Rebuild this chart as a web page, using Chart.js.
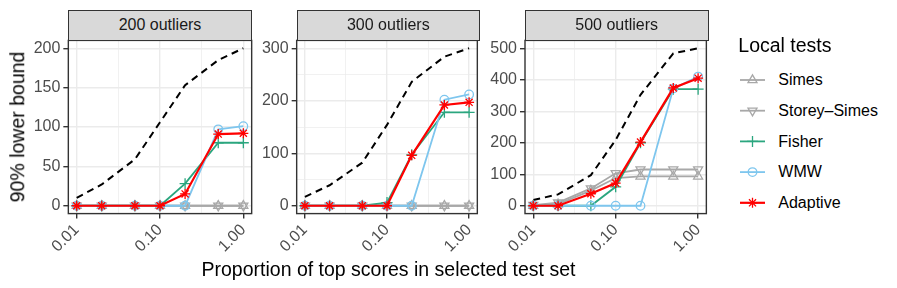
<!DOCTYPE html>
<html>
<head>
<meta charset="utf-8">
<script src="https://cdn.jsdelivr.net/npm/chart.js@4.4.1/dist/chart.umd.min.js"></script>
<style>
  body { margin: 0; background: #fff; font-family: 'Liberation Sans', Arial, sans-serif; }
  #wrap { position: relative; width: 897px; height: 288px; overflow: hidden; }
  #wrap canvas { position: absolute; top: 0; }
  .strip { position: absolute; top: 10px; height: 31px; background: #d9d9d9; border: 1.3px solid #333; box-sizing: border-box; }
  .txt { position: absolute; white-space: nowrap; line-height: 1; }
</style>
</head>
<body>
<div id="wrap">
  <canvas id="c200" width="260" height="288" style="left:0px"></canvas>
  <canvas id="c300" width="230" height="288" style="left:255px"></canvas>
  <canvas id="c500" width="230" height="288" style="left:484px"></canvas>
  <canvas id="keys" width="40" height="160" style="left:733px;top:60px"></canvas>
</div>
<script>
// data
var props = [0.01, 0.02, 0.05, 0.1, 0.2, 0.5, 1];
var xTicks = [0.01, 0.1, 1];
var xTickLabels = ['0.01', '0.10', '1.00'];
var xMinor = [0.0316, 0.316];

var panelNames = ['200 outliers', '300 outliers', '500 outliers'];
var seriesNames = ['Simes', 'Storey\u2013Simes', 'Fisher', 'WMW', 'Adaptive'];

// 200 outliers
var oracle200 = [10, 27, 59, 106, 153, 185, 200];
var simes200 = [0, 0, 0, 0, 0, 0, 0];
var storey200 = [0, 0, 0, 0, 0, 0, 0];
var fisher200 = [0, 0, 0, 0, 28, 80, 80];
var wmw200 = [0, 0, 0, 0, 0, 97, 101];
var adaptive200 = [0, 0, 0, 0, 15, 91, 92];

// 300 outliers
var oracle300 = [17, 39, 82, 154, 236, 284, 300];
var simes300 = [0, 0, 0, 0, 0, 0, 0];
var storey300 = [0, 0, 0, 0, 0, 0, 0];
var fisher300 = [0, 0, 0, 6, 97, 178, 178];
var wmw300 = [0, 0, 0, 0, 0, 202, 212];
var adaptive300 = [0, 0, 0, 0, 96, 192, 197];

// 500 outliers
var oracle500 = [18, 36, 97, 209, 352, 484, 500];
var simes500 = [0, 5, 48, 88, 93, 93, 93];
var storey500 = [2, 10, 55, 103, 115, 115, 115];
var fisher500 = [0, 0, 0, 60, 200, 370, 370];
var wmw500 = [0, 0, 0, 0, 0, 372, 410];
var adaptive500 = [0, 0, 38, 72, 202, 374, 405];

var yTicks200 = [0, 50, 100, 150, 200];
var yTicks300 = [0, 100, 200, 300];
var yTicks500 = [0, 100, 200, 300, 400, 500];

// look of each local test
var styles = [
    { color: '#a8a8a8', shape: 'triangle', radius: 5.2, rot: 0, width: 1.8 },
    { color: '#a8a8a8', shape: 'triangle', radius: 5.2, rot: 180, width: 1.8 },
    { color: '#2ba67f', shape: 'cross', radius: 5.5, rot: 0, width: 1.8 },
    { color: '#7ec6ee', shape: 'circle', radius: 4.3, rot: 0, width: 1.8 },
    { color: '#ff0000', shape: 'star', radius: 5, rot: 0, width: 2.2 }
];

Chart.defaults.font.family = "'Liberation Sans', Arial, sans-serif";
Chart.defaults.font.size = 16;
Chart.defaults.color = '#4d4d4d';

var panelBorder = {
    id: 'panelBorder',
    afterDatasetsDraw: function (chart) {
        var a = chart.chartArea;
        var ctx = chart.ctx;
        ctx.save();
        ctx.strokeStyle = '#333333';
        ctx.lineWidth = 1.4;
        ctx.strokeRect(a.left, a.top, a.right - a.left, a.bottom - a.top);
        ctx.restore();
    }
};

function toPoints(values) {
    return props.map(function (p, i) { return { x: p, y: values[i] }; });
}

function sameLog(a, b) {
    return Math.abs(Math.log10(a) - Math.log10(b)) < 1e-6;
}

function isMajorX(v) {
    for (var i = 0; i < xTicks.length; i++) {
        if (sameLog(v, xTicks[i])) return true;
    }
    return false;
}

function makePanel(id, oracle, series, yTicks, axisWidth, padRight) {
    var top = yTicks[yTicks.length - 1];
    var step = yTicks[1] - yTicks[0];
    var yAll = [];
    for (var v = 0; v <= top + 1e-9; v += step / 2) yAll.push(v);

    var datasets = [{
        label: 'oracle',
        data: toPoints(oracle),
        borderColor: '#000000',
        borderWidth: 2,
        borderDash: [7, 5],
        pointRadius: 0,
        order: 10
    }];
    series.forEach(function (vals, i) {
        var s = styles[i];
        datasets.push({
            label: seriesNames[i],
            data: toPoints(vals),
            borderColor: s.color,
            borderWidth: s.width,
            pointStyle: s.shape,
            pointRadius: s.radius,
            pointRotation: s.rot,
            pointBorderColor: s.color,
            pointBackgroundColor: 'rgba(0,0,0,0)',
            pointBorderWidth: 1.3,
            order: 5 - i
        });
    });

    new Chart(document.getElementById(id).getContext('2d'), {
        type: 'line',
        data: { datasets: datasets },
        options: {
            responsive: false,
            animation: false,
            devicePixelRatio: 1,
            layout: { padding: { left: 0, right: padRight, top: 40.4, bottom: 0 } },
            elements: { line: { tension: 0 } },
            plugins: { legend: { display: false }, tooltip: { enabled: false } },
            scales: {
                x: {
                    type: 'logarithmic',
                    min: Math.pow(10, -2.1),
                    max: Math.pow(10, 0.1),
                    afterBuildTicks: function (scale) {
                        scale.ticks = xTicks.concat(xMinor).sort(function (a, b) { return a - b; })
                            .map(function (t) { return { value: t }; });
                    },
                    afterFit: function (scale) { scale.height = 74.4; },
                    border: { display: false },
                    grid: {
                        color: '#ebebeb',
                        lineWidth: function (c) { return isMajorX(c.tick.value) ? 1.4 : 0.7; },
                        tickColor: function (c) { return isMajorX(c.tick.value) ? '#333333' : 'rgba(0,0,0,0)'; },
                        tickWidth: 1.4,
                        tickLength: 5
                    },
                    ticks: {
                        autoSkip: false,
                        minRotation: 45,
                        maxRotation: 45,
                        padding: 2,
                        callback: function (value) {
                            for (var i = 0; i < xTicks.length; i++) {
                                if (sameLog(value, xTicks[i])) return xTickLabels[i];
                            }
                            return '';
                        }
                    }
                },
                y: {
                    type: 'linear',
                    min: -0.05 * top,
                    max: 1.05 * top,
                    afterBuildTicks: function (scale) {
                        scale.ticks = yAll.map(function (t) { return { value: t }; });
                    },
                    afterFit: function (scale) { scale.width = axisWidth; },
                    border: { display: false },
                    grid: {
                        color: '#ebebeb',
                        lineWidth: function (c) { return yTicks.indexOf(c.tick.value) >= 0 ? 1.4 : 0.7; },
                        tickColor: function (c) { return yTicks.indexOf(c.tick.value) >= 0 ? '#333333' : 'rgba(0,0,0,0)'; },
                        tickWidth: 1.4,
                        tickLength: 5
                    },
                    ticks: {
                        padding: 3,
                        callback: function (value) {
                            return yTicks.indexOf(value) >= 0 ? String(value) : '';
                        }
                    }
                }
            }
        },
        plugins: [panelBorder]
    });
}

makePanel('c200', oracle200, [simes200, storey200, fisher200, wmw200, adaptive200], yTicks200, 68.33, 260 - 251.67);
makePanel('c300', oracle300, [simes300, storey300, fisher300, wmw300, adaptive300], yTicks300, 41.67, 5);
makePanel('c500', oracle500, [simes500, storey500, fisher500, wmw500, adaptive500], yTicks500, 41, 5.67);

// text: strips, axis titles, legend
var wrap = document.getElementById('wrap');

function addText(str, x, base, size, color, align) {
    var d = document.createElement('div');
    d.className = 'txt';
    d.textContent = str;
    d.style.fontSize = size + 'px';
    d.style.color = color;
    d.style.left = x + 'px';
    d.style.top = (base - 0.8465 * size) + 'px';
    if (align === 'center') d.style.transform = 'translateX(-50%)';
    wrap.appendChild(d);
    return d;
}

var panelLefts = [68.33, 296.67, 525];
panelLefts.forEach(function (left, i) {
    var s = document.createElement('div');
    s.className = 'strip';
    s.style.left = left + 'px';
    s.style.width = '183.5px';
    wrap.appendChild(s);
    addText(panelNames[i], left + 91.67, 30.7, 16, '#1a1a1a', 'center');
});

addText('Proportion of top scores in selected test set', 388.5, 276.7, 19.5, '#000', 'center');

var yt = addText('90% lower bound', 17.7, 0, 19.5, '#000', 'none');
yt.style.top = '127px';
yt.style.transform = 'translate(-50%, -50%) rotate(-90deg)';

addText('Local tests', 738.3, 52.3, 19.5, '#000', 'left');
var keyBase = [85.7, 116.4, 147.1, 177.8, 208.5];
seriesNames.forEach(function (name, i) {
    addText(name, 778.3, keyBase[i], 16, '#000', 'left');
});

// legend keys, drawn with Chart.js's own point helper
var kctx = document.getElementById('keys').getContext('2d');
styles.forEach(function (s, i) {
    var y = keyBase[i] - 5.7 - 60;
    kctx.strokeStyle = s.color;
    kctx.lineWidth = s.width;
    kctx.beginPath();
    kctx.moveTo(7, y);
    kctx.lineTo(32, y);
    kctx.stroke();
    kctx.lineWidth = 1.3;
    kctx.fillStyle = 'rgba(0,0,0,0)';
    if (Chart.helpers && Chart.helpers.drawPoint) {
        Chart.helpers.drawPoint(kctx, { pointStyle: s.shape, radius: s.radius, rotation: s.rot, borderWidth: 1.3 }, 19.5, y);
    } else {
        kctx.beginPath();
        kctx.arc(19.5, y, s.radius, 0, Math.PI * 2);
        kctx.stroke();
    }
});
</script>
</body>
</html>
